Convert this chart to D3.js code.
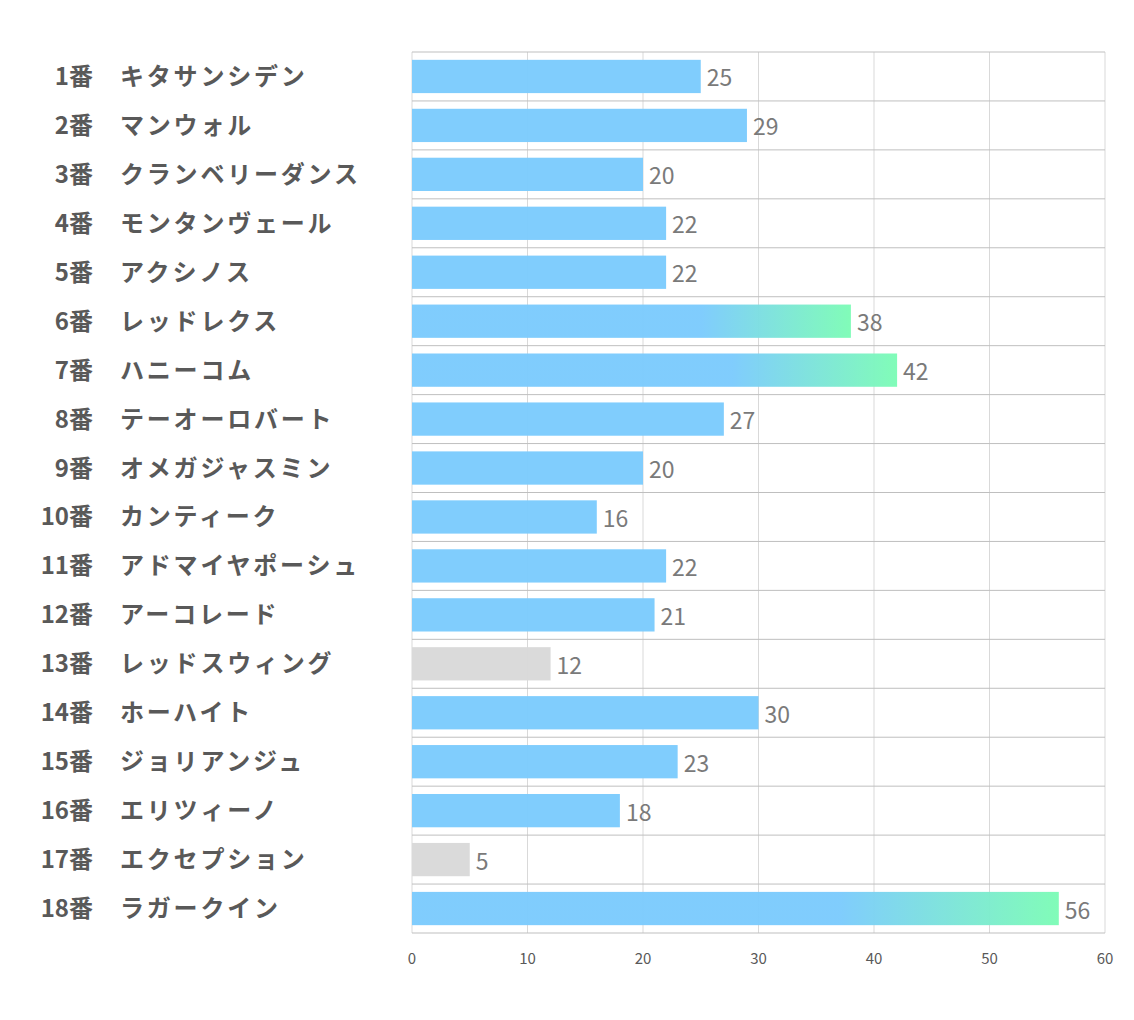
<!DOCTYPE html>
<meta charset="utf-8">
<style>
  body { margin: 0; background: #fff; }
  text { font-family: "Noto Sans CJK JP", "Noto Sans", sans-serif; }
</style>
<body>
<div id="chart"></div>
<script src="https://cdn.jsdelivr.net/npm/d3@7"></script>
<script>
  const numbers = ['1番', '2番', '3番', '4番', '5番', '6番', '7番', '8番', '9番',
    '10番', '11番', '12番', '13番', '14番', '15番', '16番', '17番', '18番'];
  const names = ['キタサンシデン', 'マンウォル', 'クランベリーダンス', 'モンタンヴェール',
    'アクシノス', 'レッドレクス', 'ハニーコム', 'テーオーロバート', 'オメガジャスミン',
    'カンティーク', 'アドマイヤポーシュ', 'アーコレード', 'レッドスウィング', 'ホーハイト',
    'ジョリアンジュ', 'エリツィーノ', 'エクセプション', 'ラガークイン'];
  const values = [25, 29, 20, 22, 22, 38, 42, 27, 20, 16, 22, 21, 12, 30, 23, 18, 5, 56];
  // 色分け: 0 = 通常, 1 = グラデーション, 2 = グレー
  const kinds = [0, 0, 0, 0, 0, 1, 1, 0, 0, 0, 0, 0, 2, 0, 0, 0, 2, 1];
  const ticks = [0, 10, 20, 30, 40, 50, 60];

  const W = 1134, H = 1020;
  const plotL = 412, plotR = 1105, plotT = 52, plotB = 933;

  const svg = d3.select('#chart').append('svg')
      .attr('width', W)
      .attr('height', H);

  const x = d3.scaleLinear().domain([0, 60]).range([plotL, plotR]);
  const y = d3.scaleBand().domain(d3.range(values.length)).range([plotT, plotB]);
  const bandPad = 0.16;

  const defs = svg.append('defs');
  const grad = defs.append('linearGradient')
      .attr('id', 'grad')
      .attr('x1', '0%').attr('x2', '100%').attr('y1', '0%').attr('y2', '0%');
  grad.append('stop').attr('offset', '0.66').attr('stop-color', '#7ccbfd');
  grad.append('stop').attr('offset', '1').attr('stop-color', '#7dfcb6');

  // 縦グリッド
  svg.append('g').selectAll('line').data(ticks).enter().append('line')
      .attr('x1', d => x(d)).attr('x2', d => x(d))
      .attr('y1', plotT).attr('y2', plotB)
      .attr('stroke', '#d9d9d9').attr('stroke-width', 1);

  // 横グリッド
  svg.append('g').selectAll('line').data(d3.range(values.length + 1)).enter().append('line')
      .attr('x1', plotL).attr('x2', plotR)
      .attr('y1', d => plotT + d * y.bandwidth()).attr('y2', d => plotT + d * y.bandwidth())
      .attr('stroke', '#bfbfbf').attr('stroke-width', 1);

  // バー
  const fillOf = k => k === 1 ? 'url(#grad)' : (k === 2 ? '#d9d9d9' : '#7ccbfd');
  svg.append('g').selectAll('rect').data(values).enter().append('rect')
      .attr('x', x(0))
      .attr('y', (d, i) => y(i) + y.bandwidth() * bandPad)
      .attr('width', d => x(d) - x(0))
      .attr('height', y.bandwidth() * (1 - 2 * bandPad))
      .attr('fill', (d, i) => fillOf(kinds[i]))
      .attr('opacity', 0.97);

  // 値ラベル
  svg.append('g').selectAll('text').data(values).enter().append('text')
      .attr('x', d => x(d) + 6)
      .attr('y', (d, i) => y(i) + y.bandwidth() / 2)
      .attr('dominant-baseline', 'central')
      .attr('font-size', 23)
      .attr('fill', '#7a7a7a')
      .text(d => d);

  // 馬番
  svg.append('g').selectAll('text').data(numbers).enter().append('text')
      .attr('x', 93)
      .attr('y', (d, i) => y(i) + y.bandwidth() / 2 - 2)
      .attr('text-anchor', 'end')
      .attr('dominant-baseline', 'central')
      .attr('font-size', 24)
      .attr('font-weight', 'bold')
      .attr('fill', '#595959')
      .text(d => d);

  // 馬名
  svg.append('g').selectAll('text').data(names).enter().append('text')
      .attr('x', 120)
      .attr('y', (d, i) => y(i) + y.bandwidth() / 2 - 2)
      .attr('dominant-baseline', 'central')
      .attr('font-size', 24)
      .attr('font-weight', 'bold')
      .attr('fill', '#595959')
      .attr('letter-spacing', 2.8)
      .text(d => d);

  // x軸目盛
  svg.append('g').selectAll('text').data(ticks).enter().append('text')
      .attr('x', d => x(d))
      .attr('y', 957)
      .attr('text-anchor', 'middle')
      .attr('dominant-baseline', 'central')
      .attr('font-size', 15)
      .attr('fill', '#595959')
      .text(d => d);
</script>
